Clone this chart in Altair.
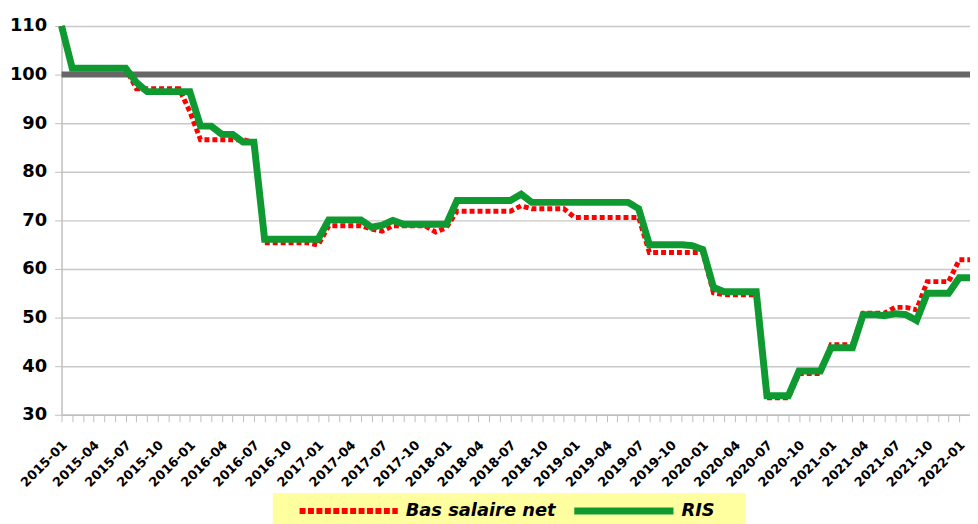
import altair as alt
import pandas as pd

# monthly categories 2015-01 .. 2022-02
MONTHS = pd.date_range("2015-01-01", "2022-02-01", freq="MS").strftime("%Y-%m").tolist()

BAS_SALAIRE_NET = [
    110,
    101.3, 101.3, 101.3, 101.3, 101.3, 101.3,
    97.1, 97.1, 97.1, 97.1, 97.1,
    92.4,
    86.6, 86.6, 86.6, 86.6, 86.6,
    86.0,
    65.4, 65.4, 65.4, 65.4, 65.4,
    64.9,
    68.9, 68.9, 68.9, 68.9,
    68.2, 67.8,
    68.9, 68.9, 68.9, 68.9,
    67.6, 68.5,
    71.9, 71.9, 71.9, 71.9, 71.9, 71.9,
    73.0,
    72.4, 72.4, 72.4, 72.4,
    70.6, 70.6, 70.6, 70.6, 70.6, 70.6, 70.6,
    63.4, 63.4, 63.4, 63.4, 63.4, 63.4,
    55.1,
    54.7, 54.7, 54.7, 54.7,
    33.5, 33.5, 33.5,
    38.5, 38.5, 38.5,
    44.4, 44.4, 44.4,
    50.9, 50.9, 50.9,
    52.1, 52.1,
    51.6,
    57.4, 57.4, 57.4,
    61.9, 61.9,
]

RIS = [
    110,
    101.3, 101.3, 101.3, 101.3, 101.3, 101.3,
    98.4,
    96.5, 96.5, 96.5, 96.5, 96.5,
    89.4, 89.4,
    87.7, 87.7,
    86.1, 86.1,
    66.1, 66.1, 66.1, 66.1, 66.1, 66.1,
    70.1, 70.1, 70.1, 70.1,
    68.6, 69.0, 70.0,
    69.2, 69.2, 69.2, 69.2, 69.2,
    74.1, 74.1, 74.1, 74.1, 74.1, 74.1,
    75.4,
    73.7, 73.7, 73.7, 73.7, 73.7, 73.7, 73.7, 73.7, 73.7, 73.7,
    72.4,
    65.0, 65.0, 65.0, 65.0, 64.8, 64.0,
    56.2,
    55.3, 55.3, 55.3, 55.3,
    33.9, 33.9, 33.9,
    39.0, 39.0, 39.0,
    43.8, 43.8, 43.8,
    50.6, 50.6, 50.4, 50.8, 50.6,
    49.4,
    55.0, 55.0, 55.0,
    58.2, 58.2,
]

SERIES = ["Bas salaire net", "RIS"]
COLORS = ["#FF0000", "#0E9A31"]
DASHES = [[5, 3], [1, 0]]
WIDTHS = [5, 7]
REFERENCE = [100]
Y_TICKS = list(range(30, 111, 10))
QUARTER_MONTHS = ["01", "04", "07", "10"]

rows = []
for name, vals in zip(SERIES, [BAS_SALAIRE_NET, RIS]):
    for m, v in zip(MONTHS, vals):
        rows.append({"month": m, "value": v, "serie": name})
df = pd.DataFrame(rows)

label_expr = (
    "indexof([" + ",".join("'" + q + "'" for q in QUARTER_MONTHS)
    + "], slice(datum.label, 5)) >= 0 ? datum.label : ''"
)

x = alt.X(
    "month:O",
    scale=alt.Scale(type="point", padding=0, domain=MONTHS),
    axis=alt.Axis(
        title=None,
        labelExpr=label_expr,
        labelAngle=-45,
        labelAlign="right",
        labelBaseline="middle",
        labelFontSize=13,
        labelOverlap=False,
        labelPadding=21,
        labelOffset=3,
        tickSize=7,
        tickColor="#BFBFBF",
        domainColor="#BFBFBF",
        domainWidth=1.5,
        grid=False,
    ),
)

y = alt.Y(
    "value:Q",
    scale=alt.Scale(domain=[30, 110], nice=False, zero=False),
    axis=alt.Axis(
        title=None,
        values=Y_TICKS,
        labelFontSize=18,
        labelPadding=8,
        tickSize=7,
        tickColor="#BFBFBF",
        domainColor="#BFBFBF",
        domainWidth=1.5,
        grid=True,
        gridColor="#C8C8C8",
        gridWidth=1.5,
    ),
)

ref = alt.Chart(pd.DataFrame({"v": REFERENCE})).mark_rule(
    color="#666666", strokeWidth=6
).encode(y=alt.Y("v:Q"))

lines = alt.Chart(df).mark_line(strokeCap="butt", strokeJoin="miter").encode(
    x=x,
    y=y,
    color=alt.Color("serie:N", scale=alt.Scale(domain=SERIES, range=COLORS), legend=None),
    strokeDash=alt.StrokeDash("serie:N", scale=alt.Scale(domain=SERIES, range=DASHES), legend=None),
    strokeWidth=alt.StrokeWidth("serie:N", scale=alt.Scale(domain=SERIES, range=WIDTHS), legend=None),
)

# ---- hand-built legend below the plot ----
legend_bg = alt.Chart(pd.DataFrame({"serie": SERIES[:1]})).mark_rect(color="#FFFFA0").encode(
    x=alt.value(213), x2=alt.value(690), y=alt.value(471), y2=alt.value(510)
)
leg_red = alt.Chart(pd.DataFrame({"serie": SERIES[:1]})).mark_rule(
    color=COLORS[0], strokeWidth=6, strokeDash=[6, 2.5], strokeCap="butt"
).encode(x=alt.value(240), x2=alt.value(339), y=alt.value(489))
leg_green = alt.Chart(pd.DataFrame({"serie": SERIES[1:]})).mark_rule(
    color=COLORS[1], strokeWidth=7, strokeCap="butt"
).encode(x=alt.value(517), x2=alt.value(617), y=alt.value(489))
leg_txt1 = alt.Chart(pd.DataFrame({"serie": SERIES[:1]})).mark_text(
    align="left", baseline="middle", font="DejaVu Sans", fontSize=18,
    fontWeight="bold", fontStyle="italic", color="black"
).encode(text="serie:N", x=alt.value(347), y=alt.value(489))
leg_txt2 = alt.Chart(pd.DataFrame({"serie": SERIES[1:]})).mark_text(
    align="left", baseline="middle", font="DejaVu Sans", fontSize=18,
    fontWeight="bold", fontStyle="italic", color="black"
).encode(text="serie:N", x=alt.value(625), y=alt.value(489))

chart = (
    alt.layer(ref, lines, legend_bg, leg_red, leg_green, leg_txt1, leg_txt2)
    .resolve_scale(y="shared")
    .properties(
        width=916,
        height=392,
        autosize=alt.AutoSizeParams(type="none"),
        padding={"left": 54, "top": 16, "right": 0, "bottom": 108},
        background="white",
    )
    .configure_view(stroke=None)
    .configure_axis(labelFont="DejaVu Sans", labelFontWeight="bold", labelColor="black")
)

chart.save("out.html", embed_options={"renderer": "svg", "actions": False})
